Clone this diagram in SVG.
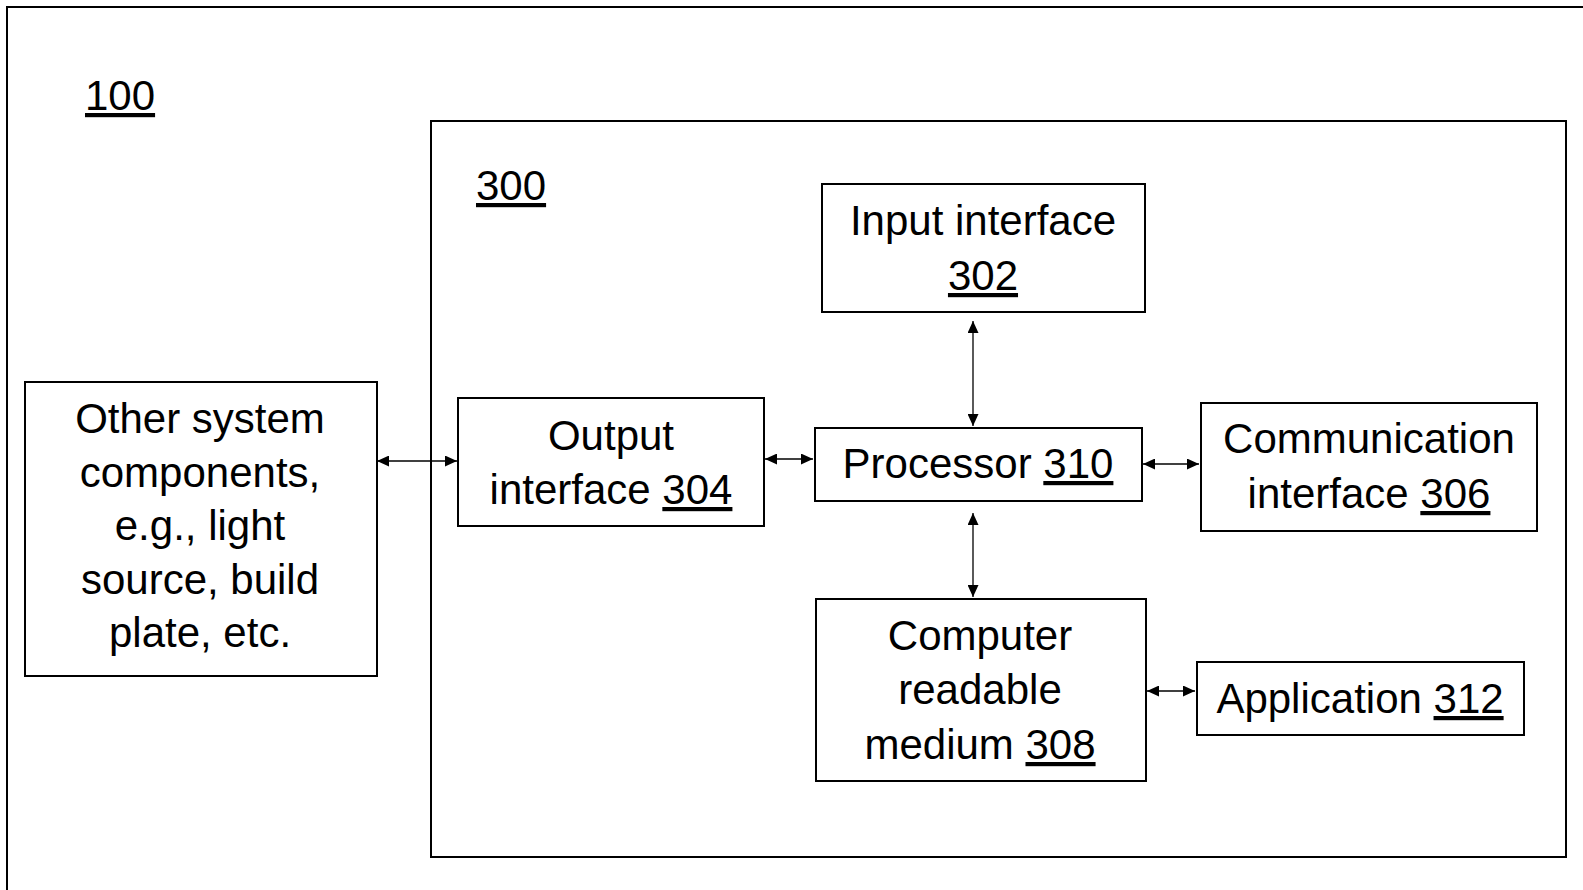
<svg xmlns="http://www.w3.org/2000/svg" width="1583" height="890" viewBox="0 0 1583 890">
<defs>
<marker id="ah" viewBox="0 0 12 11" refX="12" refY="5.5" markerWidth="12" markerHeight="11" markerUnits="userSpaceOnUse" orient="auto-start-reverse">
<path d="M0,0 L12,5.5 L0,11 Z" fill="#000"/>
</marker>
<style>
.box{fill:#fff;stroke:#000;stroke-width:2}
.frame{fill:none;stroke:#000;stroke-width:2}
.t{font-family:"Liberation Sans",Arial,sans-serif;font-size:42px;fill:#000;text-anchor:middle}
.u{text-decoration:underline}
.c{stroke:#000;stroke-width:1.3;fill:none;marker-start:url(#ah);marker-end:url(#ah)}
</style>
</defs>
<rect width="1583" height="890" fill="#fff"/>
<g id="system-100">
<rect class="frame" x="7" y="7" width="1620" height="920"/>
<text class="t u" x="85" y="110" style="text-anchor:start">100</text>
</g>
<g id="controller-300">
<rect class="frame" x="431" y="121" width="1135" height="736"/>
<text class="t u" x="476" y="200" style="text-anchor:start">300</text>
</g>
<g id="other-components">
<rect class="box" x="25" y="382" width="352" height="294"/>
<text class="t" x="200" y="433">Other system</text>
<text class="t" x="200" y="487">components,</text>
<text class="t" x="200" y="540">e.g., light</text>
<text class="t" x="200" y="594">source, build</text>
<text class="t" x="200" y="647">plate, etc.</text>
</g>
<g id="input-302">
<rect class="box" x="822" y="184" width="323" height="128"/>
<text class="t" x="983" y="235">Input interface</text>
<text class="t u" x="983" y="290">302</text>
</g>
<g id="output-304">
<rect class="box" x="458" y="398" width="306" height="128"/>
<text class="t" x="611" y="450">Output</text>
<text class="t" x="611" y="504">interface <tspan class="u">304</tspan></text>
</g>
<g id="processor-310">
<rect class="box" x="815" y="428" width="327" height="73"/>
<text class="t" x="978" y="478">Processor <tspan class="u">310</tspan></text>
</g>
<g id="comm-306">
<rect class="box" x="1201" y="403" width="336" height="128"/>
<text class="t" x="1369" y="453">Communication</text>
<text class="t" x="1369" y="508">interface <tspan class="u">306</tspan></text>
</g>
<g id="crm-308">
<rect class="box" x="816" y="599" width="330" height="182"/>
<text class="t" x="980" y="650">Computer</text>
<text class="t" x="980" y="704">readable</text>
<text class="t" x="980" y="759">medium <tspan class="u">308</tspan></text>
</g>
<g id="app-312">
<rect class="box" x="1197" y="662" width="327" height="73"/>
<text class="t" x="1360" y="713">Application <tspan class="u">312</tspan></text>
</g>
<g id="connectors">
<line class="c" x1="377" y1="461" x2="457" y2="461"/>
<line class="c" x1="765" y1="459" x2="813" y2="459"/>
<line class="c" x1="973" y1="321" x2="973" y2="426"/>
<line class="c" x1="1143" y1="464" x2="1199" y2="464"/>
<line class="c" x1="973" y1="513" x2="973" y2="597"/>
<line class="c" x1="1147" y1="691" x2="1195" y2="691"/>
</g>
</svg>
